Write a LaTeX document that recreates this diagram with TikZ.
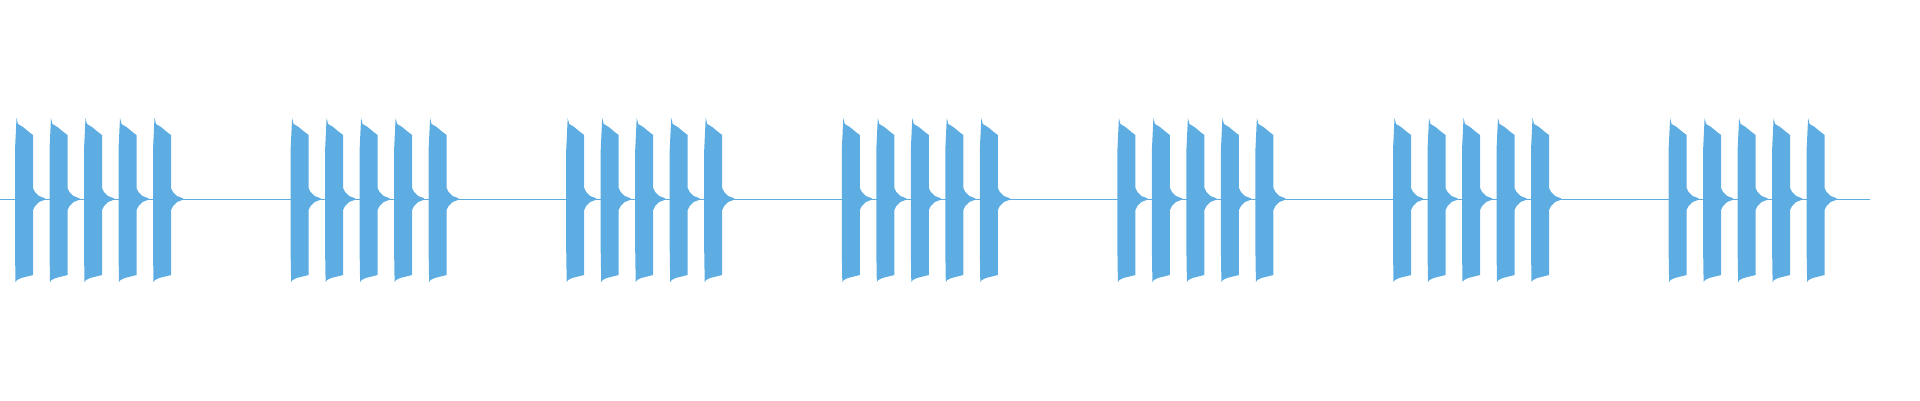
\documentclass[tikz,border=0pt]{standalone}
\definecolor{wave}{RGB}{93,173,226}
\begin{document}
\begin{tikzpicture}[x=1pt,y=-1pt,
  burst/.style={fill=wave,draw=none},
  base/.style={draw=wave,line width=1pt}]
\useasboundingbox (0,0) rectangle (1920,400);
\coordinate (L) at (0,199);
\coordinate (R) at (1870,199);
\draw[base] (L) -- (R);
\foreach \g in {0,...,6}{
  \foreach \b in {0,...,4}{
    \pgfmathsetmacro{\xo}{15+275.6*\g+34.5*\b}
    \fill[burst] (\xo,199) -- (\xo,150) -- (\xo+1.5,118) -- (\xo+3,124) -- (\xo+8,127) -- (\xo+14,132) -- (\xo+18,135) -- (\xo+18,188)
      -- (\xo+20,192) -- (\xo+24,196) -- (\xo+30,198.3) -- (\xo+30,199.7) -- (\xo+24,202) -- (\xo+20,206) -- (\xo+18,210)
      -- (\xo+18,275) -- (\xo+14,276) -- (\xo+6,278) -- (\xo+2,280) -- (\xo+0.5,282) -- (\xo,250) -- cycle;
  }
}
\end{tikzpicture}
\end{document}
